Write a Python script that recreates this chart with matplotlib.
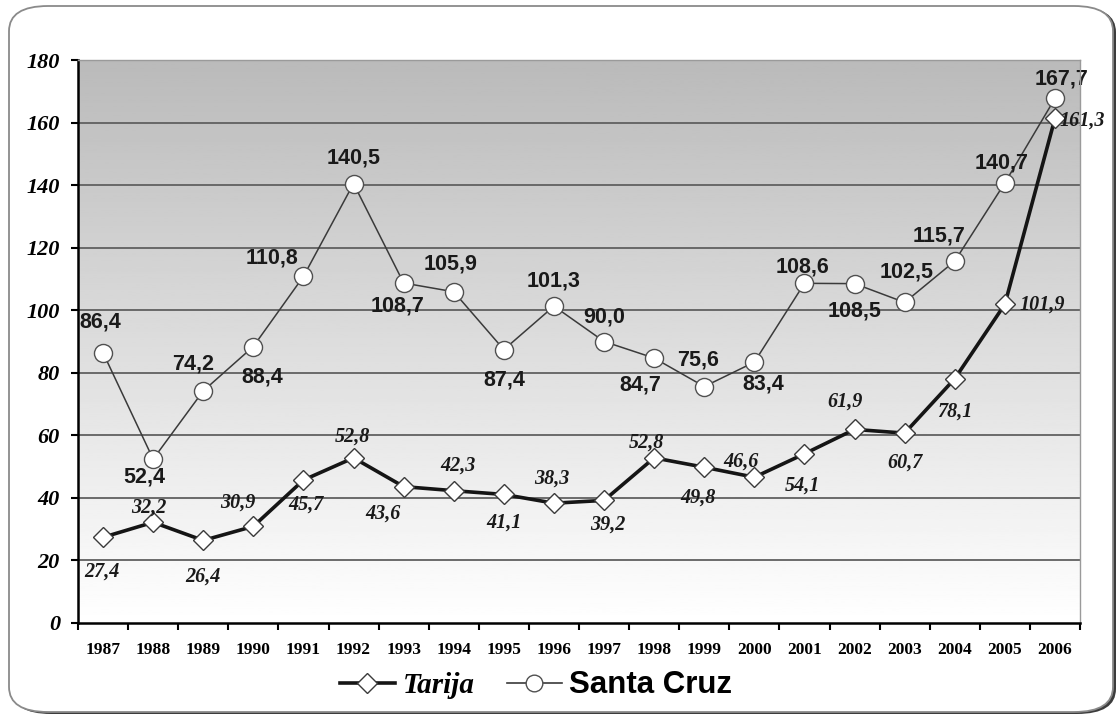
import numpy as np
import matplotlib
matplotlib.use("Agg")
import matplotlib.pyplot as plt
from matplotlib.patches import FancyBboxPatch
from matplotlib.lines import Line2D

years = ["1987", "1988", "1989", "1990", "1991", "1992", "1993", "1994", "1995", "1996",
         "1997", "1998", "1999", "2000", "2001", "2002", "2003", "2004", "2005", "2006"]
tarija = [27.4, 32.2, 26.4, 30.9, 45.7, 52.8, 43.6, 42.3, 41.1, 38.3,
          39.2, 52.8, 49.8, 46.6, 54.1, 61.9, 60.7, 78.1, 101.9, 161.3]
santa_cruz = [86.4, 52.4, 74.2, 88.4, 110.8, 140.5, 108.7, 105.9, 87.4, 101.3,
              90.0, 84.7, 75.6, 83.4, 108.6, 108.5, 102.5, 115.7, 140.7, 167.7]
y_ticks = [0, 20, 40, 60, 80, 100, 120, 140, 160, 180]

# label placement in pixels: (dx, dy up, horizontal alignment)
sc_offsets = [(-3, 31, "center"), (-9, -18, "center"), (-10, 27, "center"), (9, -30, "center"),
              (-31, 18, "center"), (0, 26, "center"), (-6, -23, "center"), (-3, 28, "center"),
              (0, -30, "center"), (0, 25, "center"), (0, 25, "center"), (-14, -27, "center"),
              (-6, 27, "center"), (9, -22, "center"), (-2, 16, "center"), (0, -27, "center"),
              (2, 30, "center"), (-16, 25, "center"), (-3, 20, "center"), (7, 19, "center")]
ta_offsets = [(-1, -34, "center"), (-4, 15, "center"), (0, -36, "center"), (-16, 24, "center"),
              (3, -25, "center"), (-1, 21, "center"), (-21, -27, "center"), (4, 25, "center"),
              (0, -28, "center"), (-2, 25, "center"), (4, -24, "center"), (-8, 15, "center"),
              (-6, -30, "center"), (-13, 16, "center"), (-2, -32, "center"), (-10, 28, "center"),
              (0, -29, "center"), (0, -33, "center"), (15, 0, "left"), (5, -2, "left")]

W, H = 1117, 717
fig = plt.figure(figsize=(W / 100, H / 100), dpi=100)
fig.patch.set_facecolor("white")

# rounded frame with a dark shadow on the lower right
shadow = FancyBboxPatch((12 / W, 3 / H), 1104 / W, 707 / H,
                        boxstyle="round,pad=0,rounding_size=0.035",
                        transform=fig.transFigure, facecolor="#3c3c3c",
                        edgecolor="none", zorder=0)
frame = FancyBboxPatch((9 / W, 5 / H), 1104 / W, 706 / H,
                       boxstyle="round,pad=0,rounding_size=0.035",
                       transform=fig.transFigure, facecolor="white",
                       edgecolor="#8a8a8a", linewidth=1.3, zorder=0.5)
fig.patches.extend([shadow, frame])

ax = fig.add_axes([78 / W, 1 - 623 / H, (1080 - 78) / W, (623 - 60) / H])
ax.set_zorder(2)
ax.set_facecolor("none")
x = np.arange(len(years))
ax.set_xlim(-0.5, len(years) - 0.5)
ax.set_ylim(0, 180)

# vertical gray gradient behind the data
grad = np.linspace(1.0, 0.73, 256).reshape(-1, 1)
ax.imshow(grad, cmap="gray", vmin=0, vmax=1, aspect="auto",
          extent=(-0.5, len(years) - 0.5, 0, 180), origin="lower", zorder=0)

for yv in y_ticks[1:]:
    ax.axhline(yv, color="#606060", linewidth=1.3, zorder=1)

ax.plot(x, santa_cruz, color="#3a3a3a", linewidth=1.1, marker="o", markersize=13,
        markerfacecolor="white", markeredgecolor="#505050", markeredgewidth=1.0, zorder=3)
ax.plot(x, tarija, color="#151515", linewidth=2.6, marker="D", markersize=10.5,
        markerfacecolor="white", markeredgecolor="#3a3a3a", markeredgewidth=1.0, zorder=4)

def fmt(v):
    return f"{v:.1f}".replace(".", ",")

for xi, v, (dx, dy, ha) in zip(x, santa_cruz, sc_offsets):
    ax.annotate(fmt(v), (xi, v), xytext=(dx * 0.72, dy * 0.72), textcoords="offset points",
                ha=ha, va="center", fontsize=15.5, fontweight="bold",
                family="Liberation Sans", color="#1a1a1a", zorder=5)
for xi, v, (dx, dy, ha) in zip(x, tarija, ta_offsets):
    ax.annotate(fmt(v), (xi, v), xytext=(dx * 0.72, dy * 0.72), textcoords="offset points",
                ha=ha, va="center", fontsize=14.5, fontweight="bold", style="italic",
                family="Liberation Serif", color="#1a1a1a", zorder=5)

ax.set_yticks(y_ticks)
ax.set_yticklabels([str(t) for t in y_ticks], fontsize=16, fontweight="bold",
                   style="italic", family="Liberation Serif")
ax.set_xticks(x)
ax.set_xticklabels(years, fontsize=12.5, fontweight="bold", family="Liberation Serif")
ax.set_xticks(np.arange(len(years) + 1) - 0.5, minor=True)
ax.tick_params(axis="x", which="major", length=0, pad=14)
ax.tick_params(axis="x", which="minor", length=5, width=1.5, direction="out", color="black")
ax.tick_params(axis="y", length=5, width=1.5, direction="out", color="black", pad=8)

for side in ("top", "right"):
    ax.spines[side].set_color("#9a9a9a")
    ax.spines[side].set_linewidth(1.0)
ax.spines["left"].set_linewidth(1.8)
ax.spines["bottom"].set_linewidth(1.8)
for side in ax.spines:
    ax.spines[side].set_zorder(6)

# legend
handles = [Line2D([0], [0], color="#151515", linewidth=2.6, marker="D", markersize=10,
                  markerfacecolor="white", markeredgecolor="#3a3a3a"),
           Line2D([0], [0], color="#3a3a3a", linewidth=1.2, marker="o", markersize=12,
                  markerfacecolor="white", markeredgecolor="#505050")]
leg = fig.legend(handles, ["Tarija", "Santa Cruz"], loc="center",
                 bbox_to_anchor=(536 / W, 1 - 685 / H), ncol=2, frameon=False,
                 prop={"size": 21}, handlelength=1.9, columnspacing=1.1,
                 handletextpad=0.25, borderpad=0)
leg.set_zorder(5)
t1, t2 = leg.get_texts()
t1.set_fontfamily("Liberation Serif")
t1.set_fontstyle("italic")
t1.set_fontweight("bold")
t2.set_fontfamily("Liberation Sans")
t2.set_fontweight("bold")
t2.set_fontsize(22.5)

fig.savefig("out.png", dpi=100)
